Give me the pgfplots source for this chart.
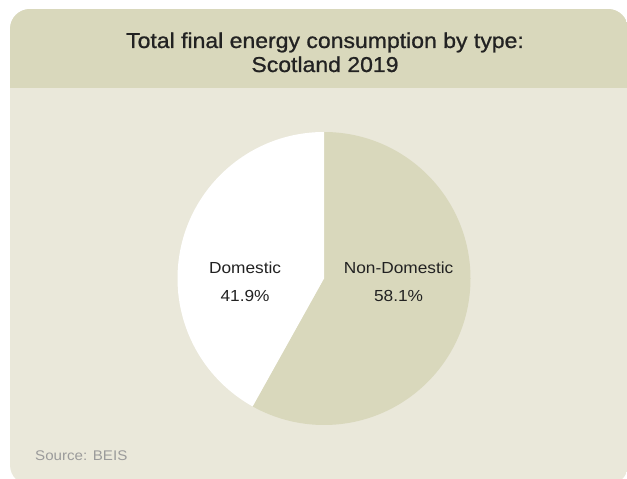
\documentclass[border=0pt]{standalone}
\usepackage{fontspec}
\setmainfont{Liberation Sans}[FakeStretch=1.08]
\newfontfamily\titlefont{Liberation Sans}[FakeStretch=1.07, FakeBold=0.9]
\usepackage{pgfplots}
\usepackage{pgfplotstable}
\pgfplotsset{compat=1.18}
\definecolor{headcol}{HTML}{D9D8BC}
\definecolor{bodycol}{HTML}{EAE8DA}
\definecolor{piecol}{HTML}{D9D8BC}
\definecolor{txtcol}{HTML}{222222}
\definecolor{srccol}{HTML}{9B9B9B}
\pgfplotstableread{
type value
NonDomestic 58.1
Domestic 41.9
}\piedata
\pgfplotstablegetelem{0}{value}\of\piedata\let\valA\pgfplotsretval
\pgfplotstablegetelem{1}{value}\of\piedata\let\valB\pgfplotsretval
\begin{document}
\begin{tikzpicture}
\useasboundingbox (0pt,0pt) rectangle (627pt,479pt);
\begin{scope}
\clip[rounded corners=20pt] (10pt,-6pt) rectangle (628pt,470pt);
\fill[bodycol] (10pt,-6pt) rectangle (628pt,470pt);
\fill[headcol] (10pt,391pt) rectangle (628pt,470pt);
\end{scope}
\node[anchor=base, text=txtcol, font=\titlefont\fontsize{21.5}{25}\selectfont, inner sep=0pt] at (325pt,431pt) {Total final energy consumption by type:};
\node[anchor=base, text=txtcol, font=\titlefont\fontsize{21.5}{25}\selectfont, inner sep=0pt] at (325pt,407pt) {Scotland 2019};
\node[anchor=base west, text=srccol, font=\fontsize{14}{16}\selectfont, inner sep=0pt] at (35pt,18pt) {Source: BEIS};
\begin{axis}[at={(324pt,200.5pt)}, anchor=center, width=293pt, height=293pt,
  scale only axis, hide axis, xmin=-1, xmax=1, ymin=-1, ymax=1, clip=false]
\fill[piecol] (axis cs:0,0) -- (axis cs:0,1) arc[start angle=90, end angle={90-3.6*\valA}, radius=146.5pt] -- cycle;
\fill[white] (axis cs:0,0) -- (axis cs:0,1) arc[start angle=90, end angle={90+3.6*\valB}, radius=146.5pt] -- cycle;
\node[anchor=base, text=txtcol, font=\fontsize{16}{18}\selectfont, inner sep=0pt] at (axis cs:-0.539,0.031) {Domestic};
\node[anchor=base, text=txtcol, font=\fontsize{16}{18}\selectfont, inner sep=0pt] at (axis cs:-0.539,-0.154) {\valB\%};
\node[anchor=base, text=txtcol, font=\fontsize{16}{18}\selectfont, inner sep=0pt] at (axis cs:0.509,0.031) {Non-Domestic};
\node[anchor=base, text=txtcol, font=\fontsize{16}{18}\selectfont, inner sep=0pt] at (axis cs:0.509,-0.154) {\valA\%};
\end{axis}
\end{tikzpicture}
\end{document}
